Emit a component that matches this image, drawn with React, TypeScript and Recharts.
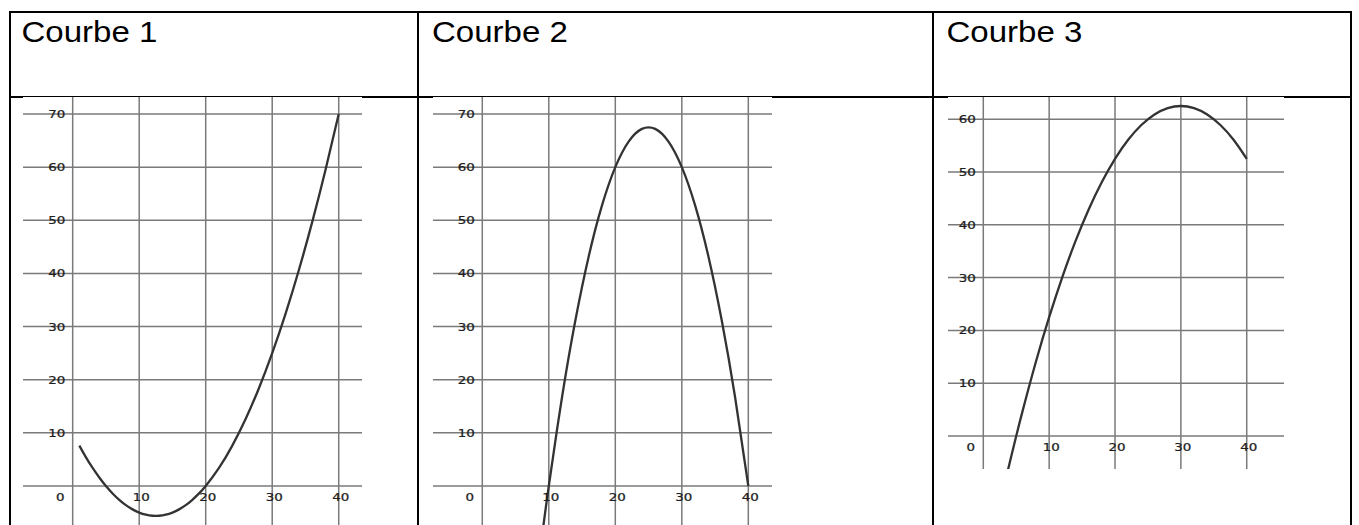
import React from 'react';
import { ComposedChart, Line, Scatter, XAxis, YAxis, CartesianGrid } from 'recharts';

// ---- data ----
const headers = ['Courbe 1', 'Courbe 2', 'Courbe 3'];

const xTicks = [10, 20, 30, 40];
const xGrid = [0, 10, 20, 30, 40];
const yTicks70 = [10, 20, 30, 40, 50, 60, 70];
const yGrid70 = [0, 10, 20, 30, 40, 50, 60, 70];
const yTicks60 = [10, 20, 30, 40, 50, 60];
const yGrid60 = [0, 10, 20, 30, 40, 50, 60];

const c1x = [1, 2, 3, 4, 5, 6, 7, 8, 9, 10, 11, 12, 13, 14, 15, 16, 17, 18, 19, 20, 22, 24, 26, 28, 30, 32, 34, 36, 38, 40];
const c1y = [7.6, 5.4, 3.4, 1.6, 0, -1.4, -2.6, -3.6, -4.4, -5, -5.4, -5.6, -5.6, -5.4, -5, -4.4, -3.6, -2.6, -1.4, 0, 3.4, 7.6, 12.6, 18.4, 25, 32.4, 40.6, 49.6, 59.4, 70];

const c2x = [9, 10, 12, 14, 16, 18, 20, 22, 24, 26, 28, 30, 32, 34, 36, 38, 40];
const c2y = [-9.3, 0, 16.8, 31.2, 43.2, 52.8, 60, 64.8, 67.2, 67.2, 64.8, 60, 52.8, 43.2, 31.2, 16.8, 0];

const c3x = [3, 4, 5, 6, 8, 10, 12, 14, 16, 18, 20, 22, 24, 26, 28, 30, 32, 34, 36, 38, 40];
const c3y = [-10.4, -5.1, 0, 4.9, 14.1, 22.5, 30.1, 36.9, 42.9, 48.1, 52.5, 56.1, 58.9, 60.9, 62.1, 62.5, 62.1, 60.9, 58.9, 56.1, 52.5];

const zip = (xs: number[], ys: number[]) => xs.map((x, i) => ({ x, y: ys[i] }));

const GRID = '#7a7a7a';
const CURVE = '#333333';
const LABEL = '#1e1e1e';
const TICK_FONT = 'DejaVu Sans';

const tickText = (dx: number, dy: number, anchor: 'start' | 'middle' | 'end') => (p: any) => {
  if (p.cx == null || p.cy == null) return <g />;
  return (
    <text
      transform={`translate(${p.cx + dx},${p.cy + dy}) scale(1.22,1)`}
      textAnchor={anchor}
      fontSize={11}
      fontFamily={TICK_FONT}
      fill={LABEL}
      stroke={LABEL}
      strokeWidth={0.25}
    >
      {p.payload.t}
    </text>
  );
};

type PanelProps = {
  left: number;
  top: number;
  width: number;
  height: number;
  xDomain: [number, number];
  yDomain: [number, number];
  data: { x: number; y: number }[];
  yTicks: number[];
  yGrid: number[];
};

function Panel({ left, top, width, height, xDomain, yDomain, data, yTicks, yGrid }: PanelProps) {
  const yLabels = yTicks.map((v) => ({ x: 0, y: v, t: String(v) }));
  const xLabels = xTicks.map((v) => ({ x: v, y: 0, t: String(v) }));
  const origin = [{ x: 0, y: 0, t: '0' }];
  return (
    <div style={{ position: 'absolute', left, top, width, height, background: '#fff' }}>
      <ComposedChart width={width} height={height} margin={{ top: 0, right: 0, bottom: 0, left: 0 }}>
        <XAxis type="number" dataKey="x" domain={xDomain} ticks={xGrid} allowDataOverflow hide />
        <YAxis type="number" dataKey="y" domain={yDomain} ticks={yGrid} allowDataOverflow hide />
        <CartesianGrid
          stroke={GRID}
          strokeWidth={1.5}
          horizontalValues={yGrid}
          verticalValues={xGrid}
        />
        <Line
          data={data}
          dataKey="y"
          type="natural"
          stroke={CURVE}
          strokeWidth={2.3}
          dot={false}
          activeDot={false}
          isAnimationActive={false}
        />
        <Scatter data={yLabels} shape={tickText(-7.5, 4, 'end')} isAnimationActive={false} />
        <Scatter data={xLabels} shape={tickText(2, 15, 'middle')} isAnimationActive={false} />
        <Scatter data={origin} shape={tickText(-12.5, 15, 'middle')} isAnimationActive={false} />
      </ComposedChart>
    </div>
  );
}

export default function App() {
  const B = 2;
  return (
    <div
      style={{
        position: 'fixed',
        left: 0,
        top: 0,
        width: 1359,
        height: 525,
        background: '#fff',
        overflow: 'hidden',
      }}
    >
      <svg width={1359} height={525} style={{ position: 'absolute', left: 0, top: 0 }}>
        <rect x={9} y={11} width={1343} height={B} fill="#000" />
        <rect x={9} y={96} width={1343} height={B} fill="#000" />
        <rect x={9} y={11} width={B} height={520} fill="#000" />
        <rect x={417} y={11} width={B} height={520} fill="#000" />
        <rect x={932} y={11} width={B} height={520} fill="#000" />
        <rect x={1350} y={11} width={B} height={520} fill="#000" />
        {headers.map((h, i) => (
          <text
            key={h}
            transform={`translate(${[21.5, 432, 946.5][i]},42) scale(1.12,1)`}
            fontSize={29.5}
            fontFamily="Liberation Sans, Arial, sans-serif"
            fill="#000"
          >
            {h}
          </text>
        ))}
      </svg>
      <Panel left={23} top={97} width={339} height={428} xDomain={[-7.47, 43.5]} yDomain={[-7.34, 73.2]} data={zip(c1x, c1y)} yTicks={yTicks70} yGrid={yGrid70} />
      <Panel left={433} top={97} width={339} height={428} xDomain={[-7.41, 43.56]} yDomain={[-7.34, 73.2]} data={zip(c2x, c2y)} yTicks={yTicks70} yGrid={yGrid70} />
      <Panel left={948} top={97} width={336} height={372} xDomain={[-5.36, 45.66]} yDomain={[-6.25, 64.2]} data={zip(c3x, c3y)} yTicks={yTicks60} yGrid={yGrid60} />
    </div>
  );
}
